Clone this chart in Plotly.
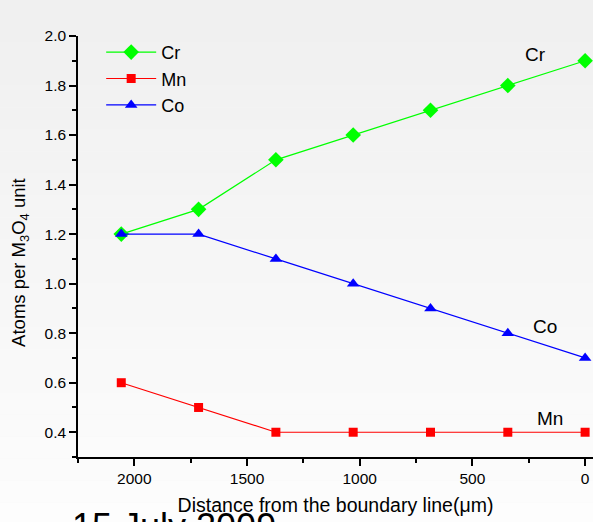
import plotly.graph_objects as go

distance = [2058, 1715, 1372, 1029, 686, 343, 0]
cr = [1.2, 1.3, 1.5, 1.6, 1.7, 1.8, 1.9]
mn = [0.6, 0.5, 0.4, 0.4, 0.4, 0.4, 0.4]
co = [1.2, 1.2, 1.1, 1.0, 0.9, 0.8, 0.7]

FONT = "Liberation Sans, Arial, sans-serif"

fig = go.Figure()
fig.add_trace(go.Scatter(x=distance, y=cr, name="Cr", mode="lines+markers",
                         line=dict(color="#00ff00", width=1.2),
                         marker=dict(symbol="diamond", size=12, color="#00ff00")))
fig.add_trace(go.Scatter(x=distance, y=mn, name="Mn", mode="lines+markers",
                         line=dict(color="#ff0000", width=1.2),
                         marker=dict(symbol="square", size=9, color="#ff0000")))
fig.add_trace(go.Scatter(x=distance, y=co, name="Co", mode="lines+markers",
                         line=dict(color="#0000ff", width=1.2),
                         marker=dict(symbol="triangle-up", size=11, color="#0000ff")))

# background gradient (light gray at top to white at bottom)
n = 24
for i in range(n):
    g = int(240 + (253 - 240) * i / (n - 1))
    fig.add_shape(type="rect", xref="paper", yref="paper", layer="below",
                  x0=-0.2, x1=1.1,
                  y0=1.09 - (i + 1) * (1.09 + 0.16) / n,
                  y1=1.09 - i * (1.09 + 0.16) / n,
                  line=dict(width=0), fillcolor=f"rgb({g},{g},{g})")

fig.add_annotation(x=343, y=1.9, text="Cr", showarrow=False, xanchor="center",
                   yanchor="middle", yshift=6, xshift=28, font=dict(size=19, color="black"))
fig.add_annotation(x=343, y=0.8, text="Co", showarrow=False, xanchor="center",
                   yanchor="middle", yshift=7, xshift=37, font=dict(size=19, color="black"))
fig.add_annotation(x=343, y=0.4, text="Mn", showarrow=False, xanchor="center",
                   yanchor="middle", yshift=14, xshift=42, font=dict(size=19, color="black"))
fig.add_annotation(xref="paper", yref="paper", x=-0.016, y=-0.112, text="15 July 2009",
                   showarrow=False, xanchor="left", yanchor="top",
                   font=dict(size=36, color="black"))
# y-axis title (placed as annotation to match the original's offset)
fig.add_annotation(xref="paper", yref="paper", x=-0.113, y=0.463,
                   text="Atoms per M<sub>3</sub>O<sub>4</sub> unit", textangle=-90,
                   showarrow=False, xanchor="center", yanchor="middle",
                   font=dict(size=18.5, color="black"))

fig.update_layout(
    width=593, height=522,
    margin=dict(l=78, r=0, t=36, b=65),
    paper_bgcolor="#f7f7f7", plot_bgcolor="rgba(0,0,0,0)",
    font=dict(family=FONT, color="black"),
    showlegend=True,
    legend=dict(x=0.045, y=1.005, xanchor="left", yanchor="top",
                bgcolor="rgba(0,0,0,0)", font=dict(size=18), tracegroupgap=0,
                itemwidth=50),
    xaxis=dict(range=[2250, -35], showgrid=False, zeroline=False,
               showline=True, linecolor="black", linewidth=1.5,
               ticks="outside", ticklen=7, tickwidth=1.5, tickcolor="black",
               dtick=500, tick0=0, tickfont=dict(size=15.5),
               minor=dict(dtick=250, tick0=0, ticks="outside", ticklen=4,
                          tickwidth=1.5, tickcolor="black"),
               title=dict(text="Distance from the boundary line(μm)",
                          font=dict(size=19.5), standoff=12)),
    yaxis=dict(range=[0.3, 2.0], showgrid=False, zeroline=False,
               showline=True, linecolor="black", linewidth=1.5,
               ticks="outside", ticklen=7, tickwidth=1.5, tickcolor="black",
               dtick=0.2, tick0=0, tickformat=".1f", tickfont=dict(size=15.5),
               minor=dict(dtick=0.1, tick0=0, ticks="outside", ticklen=4,
                          tickwidth=1.5, tickcolor="black")),
)

fig.write_html("out.html", config={"displayModeBar": False},
               post_script="document.body.style.margin='0';document.body.style.overflow='hidden';")
